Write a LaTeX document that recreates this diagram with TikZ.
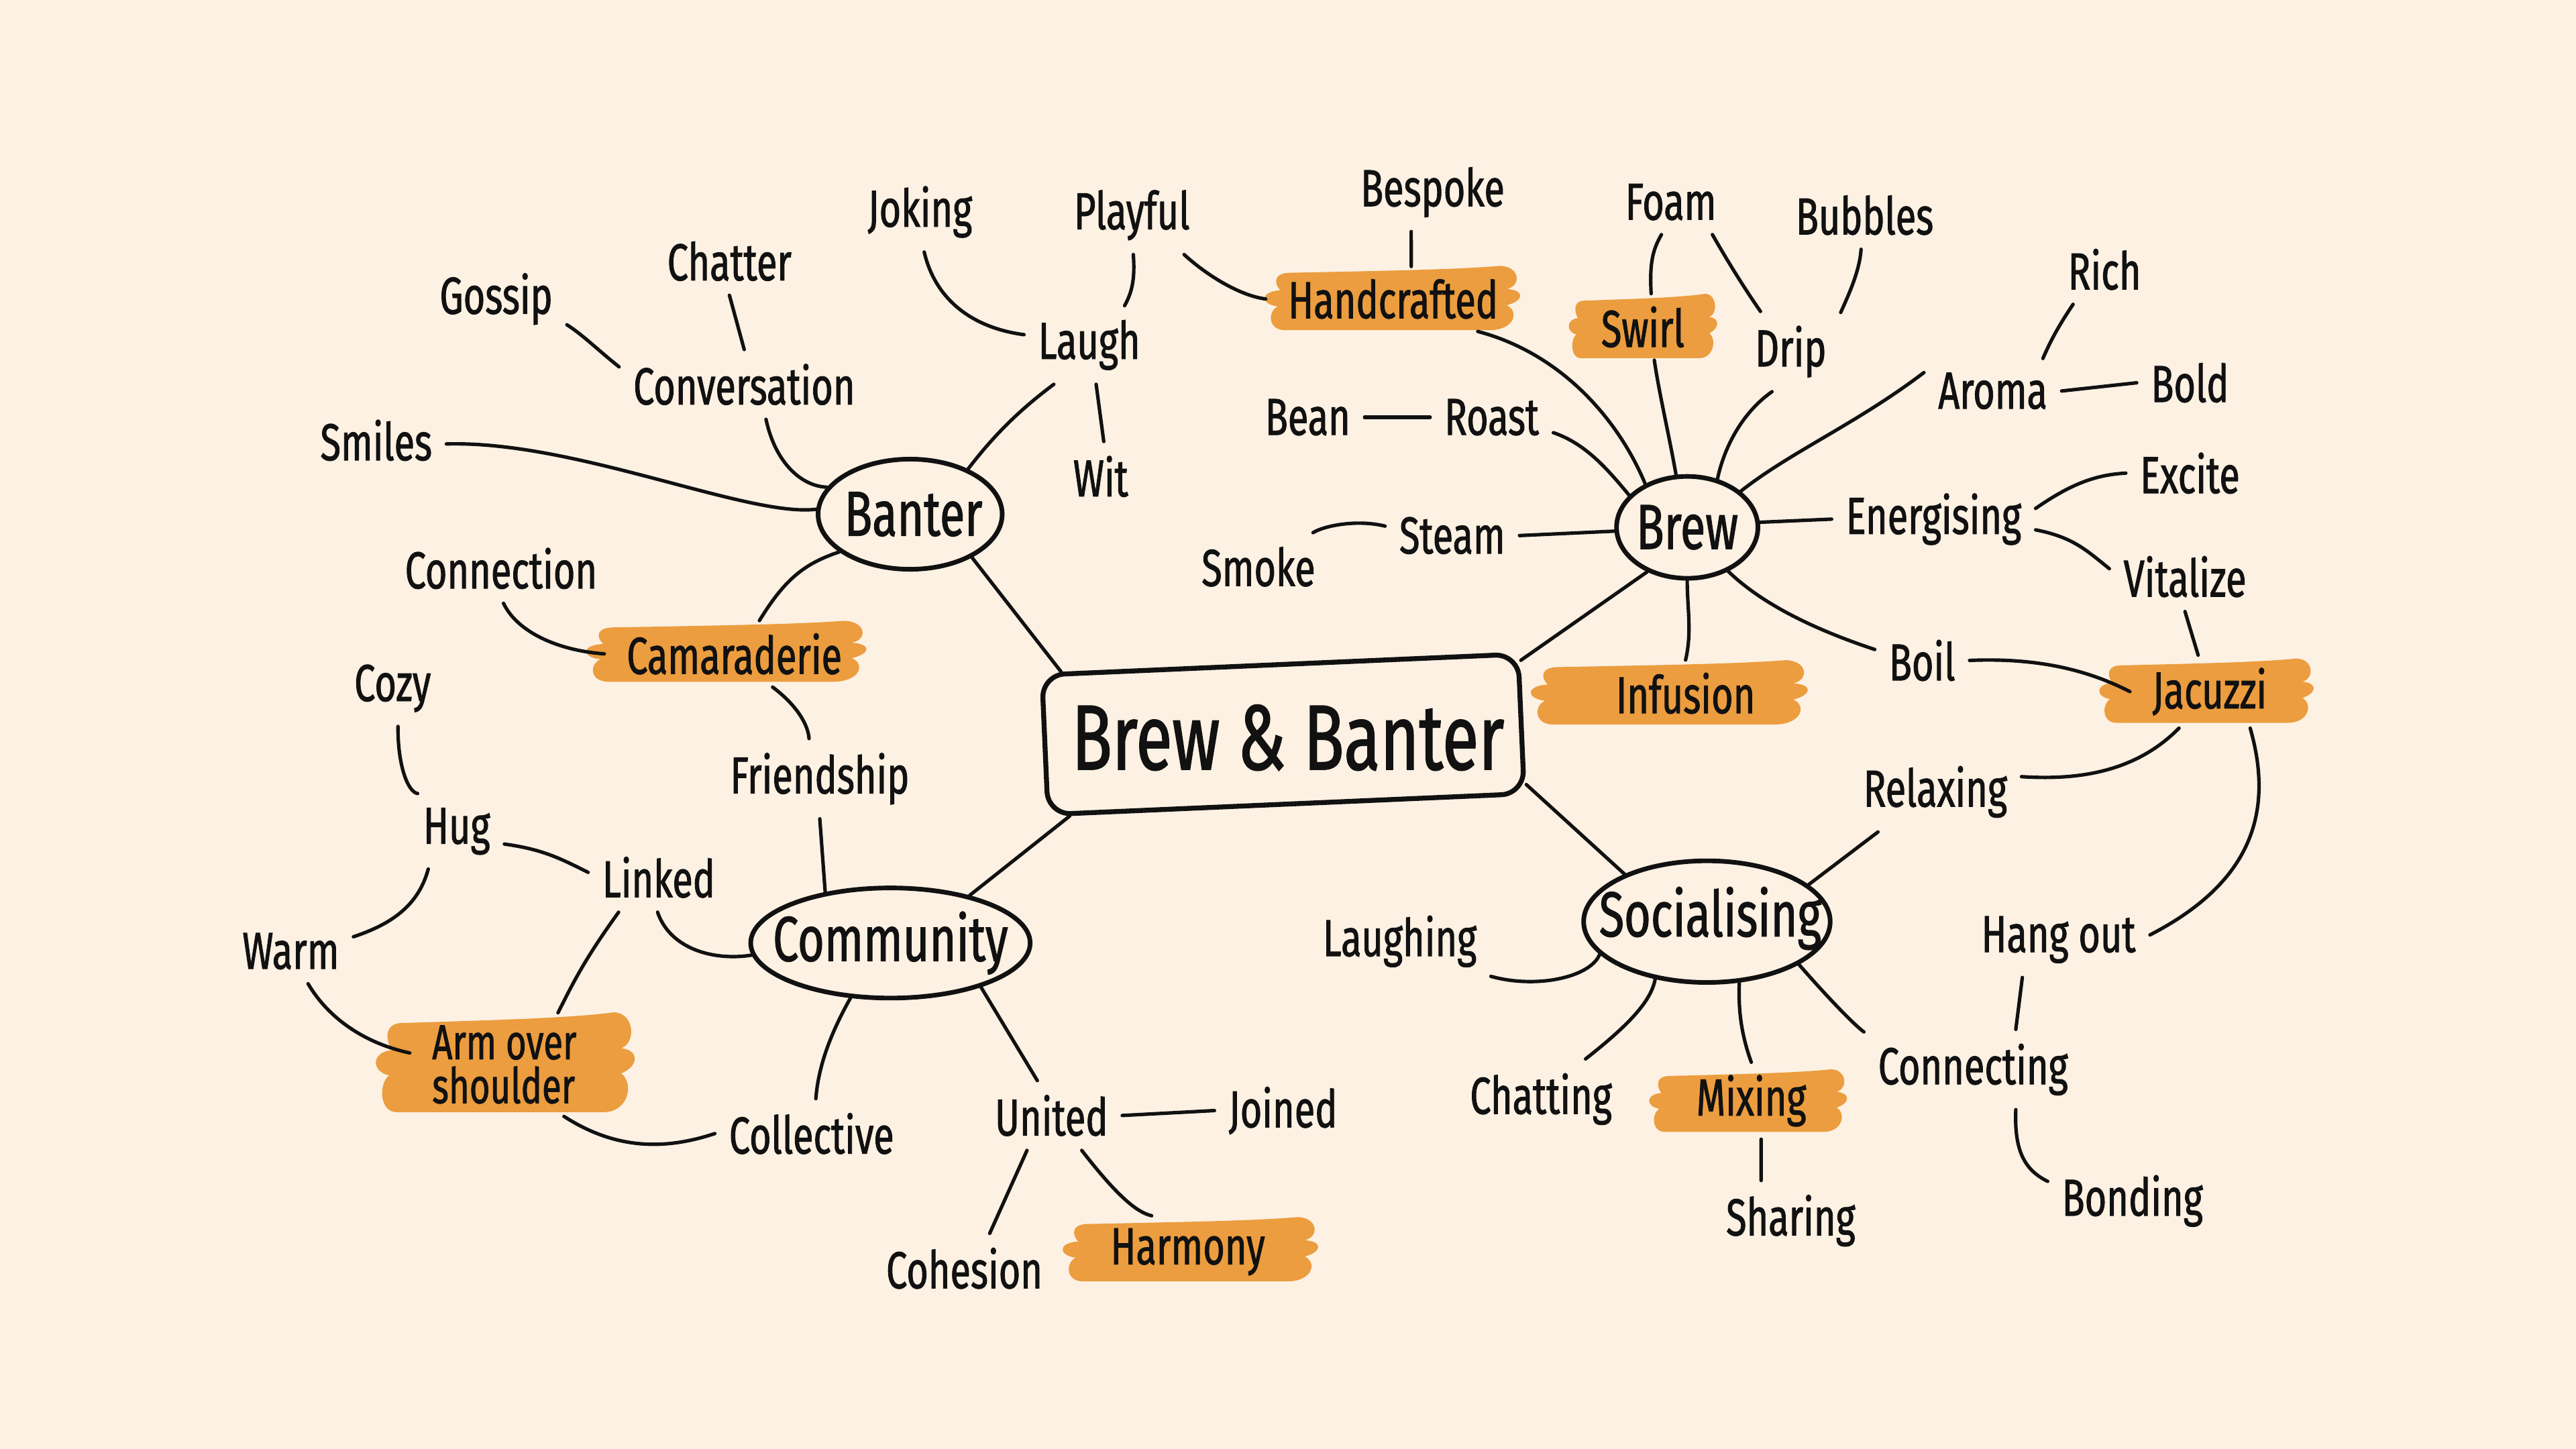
\documentclass[tikz,border=0pt]{standalone}
\usepackage{fontspec}
\setmainfont{Fira Sans}[FakeStretch=0.72, FakeBold=1.2]
\usetikzlibrary{shapes.geometric,calc}
\definecolor{bgc}{HTML}{FCF1E3}
\definecolor{hlc}{HTML}{EC9D3F}
\definecolor{ink}{HTML}{111111}
\newcommand\brush[4]{%
  \fill[hlc,shift={(#1,#4)},xscale={#3-#1},yscale={#2-#4}]
    (0.10,0.92) .. controls (0.45,0.95) and (0.75,0.97) .. (0.92,1.03)
    .. controls (1.0,1.03) and (1.01,0.72) .. (0.95,0.66)
    .. controls (1.02,0.64) and (1.02,0.48) .. (0.95,0.40)
    .. controls (1.0,0.30) and (0.98,0.0) .. (0.88,0.0)
    -- (0.08,0.0)
    .. controls (0.01,0.0) and (0.01,0.3) .. (0.05,0.38)
    .. controls (-0.02,0.42) and (-0.02,0.62) .. (0.06,0.64)
    .. controls (0.03,0.78) and (0.04,0.92) .. (0.10,0.92) -- cycle;}
\begin{document}
\begin{tikzpicture}[x=0.01cm,y=-0.01cm,
  lbl/.style={font=\fontsize{9}{10}\selectfont, inner sep=0.08cm, text=ink},
  hl/.style={lbl, inner xsep=0.13cm, inner ysep=0.07cm},
  hubtext/.style={font=\fontsize{16}{18}\selectfont, text=ink},
  blob/.style={ellipse, draw=ink, line width=0.8pt, inner sep=0pt},
  blobtext/.style={font=\fontsize{11}{12}\selectfont, text=ink},
  conn/.style={draw=ink, line width=0.6pt, line cap=round}]
\useasboundingbox (0,0) rectangle (1568,882);
\fill[bgc] (0,0) rectangle (1568,882);
% highlights
\brush{770}{163}{925}{201}
\brush{955}{180}{1045}{218}
\brush{357}{379}{527}{415}
\brush{932}{403}{1100}{441}
\brush{1278}{402}{1408}{440}
\brush{229}{618}{386}{677}
\brush{1004}{652}{1124}{689}
\brush{647}{742}{802}{780}
% hub
\node[draw=ink, line width=0.85pt, rounded corners=0.14cm, minimum width=2.9cm, minimum height=0.85cm, rotate=2.5] (hub) at (781,447) {};
\node[hubtext] (title) at (784,449) {Brew \& Banter};
% blobs
\node[blob, minimum width=1.12cm, minimum height=0.67cm] (banter) at (554,313) {};
\node[blobtext] (banterT) at (556,313) {Banter};
\node[blob, minimum width=0.86cm, minimum height=0.62cm] (brew) at (1027,321) {};
\node[blobtext] (brewT) at (1027,321) {Brew};
\node[blob, minimum width=1.70cm, minimum height=0.67cm] (community) at (542,574) {};
\node[blobtext] (communityT) at (542,574) {Community};
\node[blob, minimum width=1.50cm, minimum height=0.74cm] (social) at (1039,561) {};
\node[blobtext] (socialT) at (1041,559) {Socialising};
% labels
\node[lbl] (conversation) at (453,234) {Conversation};
\node[lbl] (chatter) at (444,159) {Chatter};
\node[lbl] (gossip) at (302,182) {Gossip};
\node[lbl] (laugh) at (663,210) {Laugh};
\node[lbl] (joking) at (560,129) {Joking};
\node[lbl] (playful) at (689,131) {Playful};
\node[lbl] (wit) at (670,290) {Wit};
\node[lbl] (smiles) at (229,268) {Smiles};
\node[hl] (camaraderie) at (447,398) {Camaraderie};
\node[lbl] (connection) at (305,346) {Connection};
\node[lbl] (friendship) at (499,474) {Friendship};
\node[hl] (handcrafted) at (848,182) {Handcrafted};
\node[lbl] (bespoke) at (872,117) {Bespoke};
\node[hl] (swirl) at (1000,199) {Swirl};
\node[lbl] (foam) at (1017,123) {Foam};
\node[lbl] (drip) at (1090,214) {Drip};
\node[lbl] (bubbles) at (1135,131) {Bubbles};
\node[lbl] (aroma) at (1213,238) {Aroma};
\node[lbl] (rich) at (1281,164) {Rich};
\node[lbl] (bold) at (1333,233) {Bold};
\node[lbl] (bean) at (796,254) {Bean};
\node[lbl] (roast) at (908,254) {Roast};
\node[lbl] (steam) at (884,326) {Steam};
\node[lbl] (smoke) at (766,345) {Smoke};
\node[lbl] (energising) at (1177,316) {Energising};
\node[lbl] (excite) at (1333,288) {Excite};
\node[lbl] (vitalize) at (1330,351) {Vitalize};
\node[hl] (infusion) at (1026,422) {Infusion};
\node[lbl] (boil) at (1170,402) {Boil};
\node[hl] (jacuzzi) at (1345,421) {Jacuzzi};
\node[lbl] (relaxing) at (1178,482) {Relaxing};
\node[lbl] (hangout) at (1253,572) {Hang out};
\node[lbl] (laughing) at (852,573) {Laughing};
\node[lbl] (chatting) at (938,669) {Chatting};
\node[hl] (mixing) at (1066,670) {Mixing};
\node[lbl] (sharing) at (1090,743) {Sharing};
\node[lbl] (connecting) at (1201,651) {Connecting};
\node[lbl] (bonding) at (1298,731) {Bonding};
\node[lbl] (linked) at (401,534) {Linked};
\node[lbl] (hug) at (278,506) {Hug};
\node[lbl] (cozy) at (239,419) {Cozy};
\node[lbl] (warm) at (177,579) {Warm};
\node[hl, align=left, font=\fontsize{8.5}{7.6}\selectfont] (arm) at (307,648) {Arm over\\shoulder};
\node[lbl] (collective) at (494,690) {Collective};
\node[lbl] (united) at (640,679) {United};
\node[lbl] (joined) at (781,676) {Joined};
\node[lbl] (cohesion) at (587,772) {Cohesion};
\node[hl] (harmony) at (723,762) {Harmony};
% hub links
\draw[conn] ($(hub.north west)!0.045!(hub.north east)$) -- (banter.-35);
\draw[conn] ($(hub.north east)!0.06!(hub.south east)$) -- (brew.-132);
\draw[conn] ($(hub.south west)!0.05!(hub.south east)$) -- (community.31);
\draw[conn] ($(hub.south east)!0.08!(hub.north east)$) -- (social.150);
% banter
\draw[conn] (conversation.-58) .. controls (472,282) and (488,296) .. (banter.162);
\draw[conn] (conversation.north) -- (chatter.south);
\draw[conn] (conversation.172) .. controls (365,214) and (355,204) .. (gossip.-20);
\draw[conn] (banter.38) .. controls (605,265) and (620,250) .. (laugh.-132);
\draw[conn] (laugh.171) .. controls (595,200) and (570,185) .. (joking.-84);
\draw[conn] (laugh.48) .. controls (689,178) and (691,170) .. (playful.-88);
\draw[conn] (laugh.-80) -- (wit.85);
\draw[conn] (banter.177) .. controls (455,315) and (350,268) .. (smiles.-3);
\draw[conn] (banter.-152) .. controls (490,343) and (478,352) .. (camaraderie.53);
\draw[conn] (camaraderie.180) .. controls (340,396) and (315,385) .. (connection.-86);
\draw[conn] (camaraderie.-41) .. controls (486,430) and (492,442) .. (friendship.105);
\draw[conn] (friendship.south) -- (community.142);
\draw[conn] (playful.-37) .. controls (735,168) and (755,180) .. (handcrafted.180);
\draw[conn] ([xshift=0.11cm]handcrafted.north) -- ([xshift=-0.13cm]bespoke.south);
\draw[conn] (handcrafted.-21) .. controls (950,215) and (985,255) .. (brew.134);
% brew
\draw[conn] (brew.102) .. controls (1016,265) and (1010,240) .. (swirl.-71);
\draw[conn] (swirl.76) .. controls (1004,160) and (1006,152) .. (foam.-106);
\draw[conn] (foam.-38) .. controls (1055,165) and (1065,180) .. (drip.127);
\draw[conn] (drip.38) .. controls (1125,180) and (1132,165) .. (bubbles.-96);
\draw[conn] (brew.58) .. controls (1050,270) and (1062,250) .. (drip.-115);
\draw[conn] (brew.151) .. controls (978,285) and (965,270) .. (roast.-14);
\draw[conn] (roast.west) -- (bean.east);
\draw[conn] (brew.-177) -- (steam.east);
\draw[conn] (steam.172) .. controls (826,316) and (806,320) .. (smoke.32);
\draw[conn] (brew.34) .. controls (1090,275) and (1130,258) .. (aroma.165);
\draw[conn] (aroma.33) .. controls (1248,208) and (1252,200) .. (rich.-132);
\draw[conn] (aroma.east) -- (bold.west);
\draw[conn] (brew.4) -- (energising.west);
\draw[conn] (energising.6) .. controls (1260,295) and (1275,289) .. (excite.180);
\draw[conn] (energising.-6) .. controls (1262,327) and (1270,335) .. (vitalize.174);
\draw[conn] (vitalize.south) -- ([xshift=-0.07cm]jacuzzi.north);
\draw[conn] (brew.-90) .. controls (1027,370) and (1030,385) .. (infusion.north);
\draw[conn] (brew.-47) .. controls (1075,370) and (1110,385) .. (boil.167);
\draw[conn] (boil.0) .. controls (1245,400) and (1275,410) .. (jacuzzi.180);
\draw[conn] (jacuzzi.-130) .. controls (1300,470) and (1265,475) .. (relaxing.10);
\draw[conn] (jacuzzi.-42) .. controls (1386,500) and (1365,540) .. (hangout.3);
% socialising
\draw[conn] (social.20) -- (relaxing.-145);
\draw[conn] (social.-163) .. controls (968,595) and (935,602) .. (laughing.-21);
\draw[conn] (social.-132) .. controls (1005,610) and (990,625) .. (chatting.42);
\draw[conn] (social.-62) .. controls (1058,615) and (1060,630) .. (mixing.north);
\draw[conn] ([xshift=0.06cm]mixing.south) -- ([xshift=-0.18cm]sharing.north);
\draw[conn] (social.-25) .. controls (1115,610) and (1130,625) .. (connecting.161);
\draw[conn] ([xshift=0.26cm]connecting.north) -- ([xshift=-0.22cm]hangout.south);
\draw[conn] ([xshift=0.26cm]connecting.south) .. controls (1226,700) and (1232,712) .. (bonding.167);
% community
\draw[conn] (community.185) .. controls (435,585) and (408,578) .. (linked.-92);
\draw[conn] (linked.176) .. controls (340,522) and (330,517) .. (hug.-15);
\draw[conn] (hug.136) .. controls (248,482) and (242,465) .. (cozy.-82);
\draw[conn] (hug.-127) .. controls (255,550) and (240,562) .. (warm.13);
\draw[conn] (linked.-139) .. controls (355,585) and (348,600) .. (arm.44);
\draw[conn] (warm.-62) .. controls (200,620) and (222,635) .. (arm.173);
\draw[conn] (community.-126) .. controls (505,630) and (498,650) .. (collective.83);
\draw[conn] (collective.180) .. controls (405,700) and (375,700) .. (arm.-41);
\draw[conn] (community.-26) -- (united.112);
\draw[conn] (united.east) -- (joined.west);
\draw[conn] (united.-125) -- (cohesion.54);
\draw[conn] (united.-49) .. controls (680,728) and (692,738) .. (harmony.135);
\end{tikzpicture}
\end{document}
